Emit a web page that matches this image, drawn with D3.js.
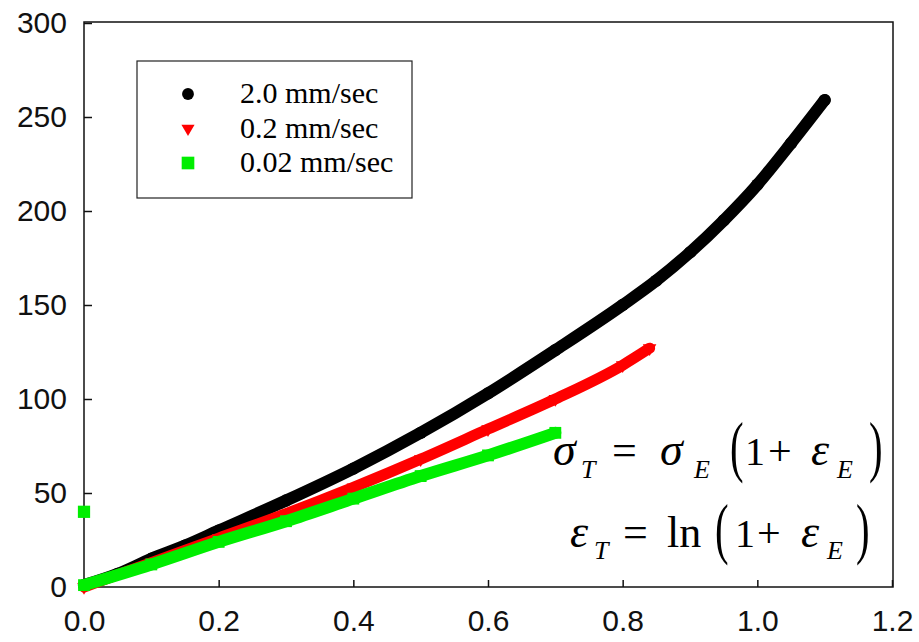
<!DOCTYPE html>
<html>
<head>
<meta charset="utf-8">
<script src="https://cdn.jsdelivr.net/npm/d3@7"></script>
<style>
  body { margin: 0; background: #fff; }
  svg { display: block; }
</style>
</head>
<body>
<svg id="chart" width="919" height="642"></svg>
<script>
// strain (engineering) vs stress
const fastStrain = [0, 0.05, 0.1, 0.15, 0.2, 0.3, 0.4, 0.5, 0.6, 0.7, 0.8, 0.85, 0.9, 0.95, 1.0, 1.05, 1.1]
const fastStress = [1, 7, 15, 22, 30, 46, 63, 82, 103, 126, 150, 163, 178, 195, 214, 236, 259]
const midStrain = [0, 0.1, 0.2, 0.3, 0.4, 0.5, 0.6, 0.7, 0.8, 0.84]
const midStress = [0, 13, 26, 39, 53, 68, 84, 100, 118, 127]
const slowStrain = [0, 0.1, 0.2, 0.3, 0.4, 0.5, 0.6, 0.7]
const slowStress = [1, 12, 24, 35, 47, 59, 70, 82]
const outlier = [0, 40] // lone green point on the y axis

const seriesNames = ['2.0 mm/sec', '0.2 mm/sec', '0.02 mm/sec']
const seriesColors = ['#000000', '#ff0000', '#00ee00']
const xTicks = [0, 0.2, 0.4, 0.6, 0.8, 1.0, 1.2]
const yTicks = [0, 50, 100, 150, 200, 250, 300]

const svg = d3.select('#chart')
const plotLeft = 84, plotRight = 893, plotTop = 22, plotBottom = 587

const x = d3.scaleLinear().domain([0, 1.2]).range([plotLeft, plotRight - 1])
const y = d3.scaleLinear().domain([0, 300]).range([plotBottom, plotTop + 1])

// frame
svg.append('rect')
    .attr('x', plotLeft).attr('y', plotTop)
    .attr('width', plotRight - plotLeft).attr('height', plotBottom - plotTop)
    .attr('fill', 'none').attr('stroke', '#111').attr('stroke-width', 1.5)

const xAxis = svg.append('g')
    .attr('transform', `translate(0,${plotBottom})`)
    .call(d3.axisBottom(x).tickValues(xTicks).tickFormat(d3.format('.1f'))
        .tickSizeInner(-7).tickSizeOuter(0).tickPadding(23))
const yAxis = svg.append('g')
    .attr('transform', `translate(${plotLeft},0)`)
    .call(d3.axisLeft(y).tickValues(yTicks)
        .tickSizeInner(-8).tickSizeOuter(0).tickPadding(17))

;[xAxis, yAxis].forEach(g => {
    g.select('.domain').remove()
    g.selectAll('line').attr('stroke', '#111').attr('stroke-width', 1.5)
    g.selectAll('text')
        .attr('font-family', '"Liberation Sans", Arial, sans-serif')
        .attr('font-size', 30).attr('fill', '#111')
})

// data bands
const series = [
    { xs: fastStrain, ys: fastStress, sym: d3.symbolCircle, size: 120 },
    { xs: midStrain, ys: midStress, sym: d3.symbolTriangle, size: 80 },
    { xs: slowStrain, ys: slowStress, sym: d3.symbolSquare, size: 140 }
]
const line = d3.line().x(d => x(d[0])).y(d => y(d[1])).curve(d3.curveMonotoneX)

series.forEach((s, i) => {
    const pts = s.xs.map((v, j) => [v, s.ys[j]])
    svg.append('path')
        .attr('d', line(pts))
        .attr('fill', 'none')
        .attr('stroke', seriesColors[i])
        .attr('stroke-width', i === 1 ? 11 : 12)
        .attr('stroke-linecap', 'round')
        .attr('stroke-linejoin', 'round')
    svg.selectAll(null).data(pts).enter().append('path')
        .attr('d', d3.symbol().type(s.sym).size(s.size))
        .attr('transform', d => `translate(${x(d[0])},${y(d[1])})${i === 1 ? ' rotate(180)' : ''}`)
        .attr('fill', seriesColors[i])
})

svg.append('path')
    .attr('d', d3.symbol().type(d3.symbolSquare).size(150))
    .attr('transform', `translate(${x(outlier[0])},${y(outlier[1])})`)
    .attr('fill', seriesColors[2])

// legend
svg.append('rect')
    .attr('x', 137).attr('y', 61).attr('width', 275).attr('height', 137)
    .attr('fill', '#fff').attr('stroke', '#222').attr('stroke-width', 1.2)
const legendSyms = [d3.symbolCircle, d3.symbolTriangle, d3.symbolSquare]
const legendSizes = [110, 75, 160]
seriesNames.forEach((name, i) => {
    const base = 103 + i * 34.5
    svg.append('path')
        .attr('d', d3.symbol().type(legendSyms[i]).size(legendSizes[i]))
        .attr('transform', `translate(188,${base - 9})${i === 1 ? ' rotate(180)' : ''}`)
        .attr('fill', seriesColors[i])
    svg.append('text')
        .attr('x', 240).attr('y', base)
        .attr('font-family', '"Liberation Serif", "Times New Roman", serif')
        .attr('font-size', 30).attr('fill', '#000')
        .text(name)
})

// equation annotation
const serif = '"Liberation Serif", "Times New Roman", serif'
const eqTokens = [
    // line 1: sigma_T = sigma_E (1 + eps_E)
    { t: 'σ', x: 553, y: 465, s: 46, it: true },
    { t: 'T', x: 581, y: 478, s: 26, it: true },
    { t: '=', x: 612, y: 465, s: 44 },
    { t: 'σ', x: 660, y: 465, s: 46, it: true },
    { t: 'E', x: 694, y: 478, s: 26, it: true },
    { t: '1', x: 745, y: 465, s: 40 },
    { t: '+', x: 768, y: 465, s: 42 },
    { t: 'ε', x: 811, y: 465, s: 46, it: true },
    { t: 'E', x: 837, y: 478, s: 26, it: true },
    // line 2: eps_T = ln(1 + eps_E)
    { t: 'ε', x: 570, y: 547, s: 46, it: true },
    { t: 'T', x: 594, y: 559, s: 26, it: true },
    { t: '=', x: 623, y: 547, s: 44 },
    { t: 'ln', x: 667, y: 547, s: 44 },
    { t: '1', x: 735, y: 547, s: 40 },
    { t: '+', x: 757, y: 547, s: 42 },
    { t: 'ε', x: 801, y: 547, s: 46, it: true },
    { t: 'E', x: 827, y: 559, s: 26, it: true }
]
const eqParens = [
    { t: '(', x: 730, y: 469 }, { t: ')', x: 869, y: 469 },
    { t: '(', x: 715, y: 551 }, { t: ')', x: 856, y: 551 }
]
svg.selectAll('text.eq').data(eqTokens).enter().append('text')
    .attr('class', 'eq')
    .attr('x', d => d.x).attr('y', d => d.y)
    .attr('font-family', serif)
    .attr('font-size', d => d.s)
    .attr('font-style', d => d.it ? 'italic' : 'normal')
    .attr('fill', '#000')
    .text(d => d.t)
svg.selectAll('text.paren').data(eqParens).enter().append('text')
    .attr('class', 'paren')
    .attr('transform', d => `translate(${d.x},${d.y}) scale(0.6,1)`)
    .attr('font-family', serif)
    .attr('font-size', 68)
    .attr('fill', '#000')
    .text(d => d.t)
</script>
</body>
</html>
